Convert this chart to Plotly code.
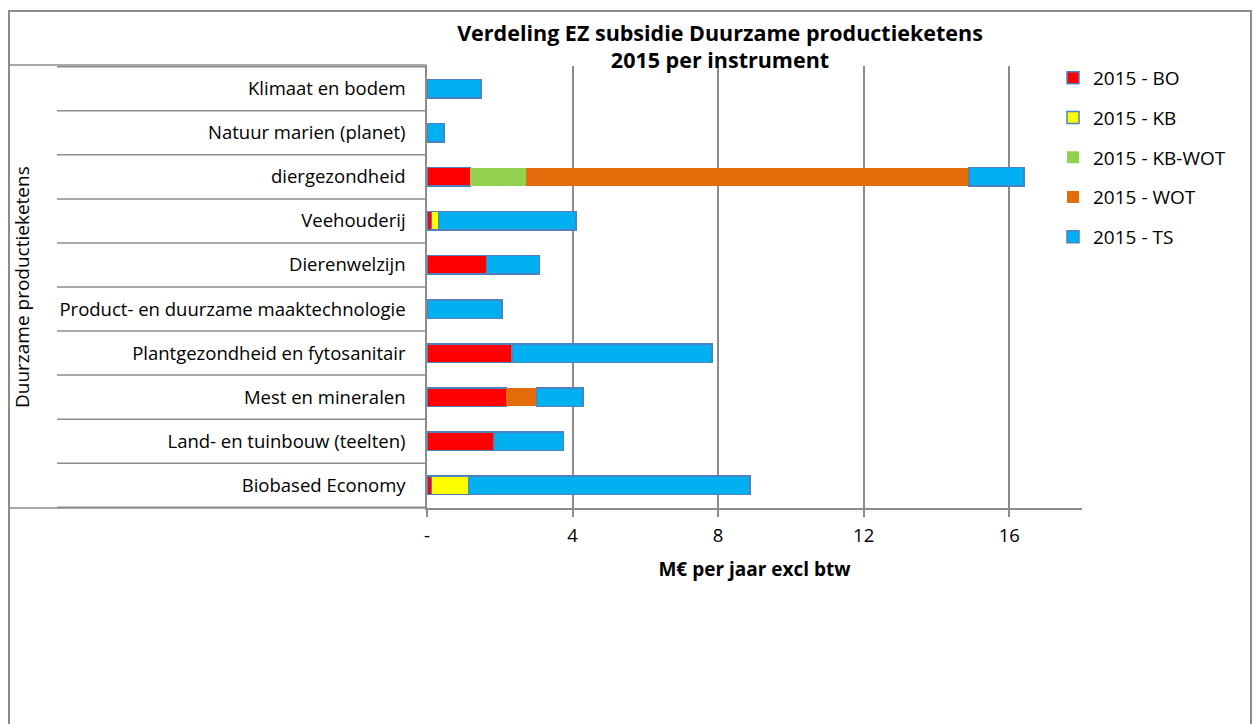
import plotly.graph_objects as go

# categories from bottom to top (plotly draws first category at the bottom)
categories = [
    "Biobased Economy",
    "Land- en tuinbouw (teelten)",
    "Mest en mineralen",
    "Plantgezondheid en fytosanitair",
    "Product- en duurzame maaktechnologie",
    "Dierenwelzijn",
    "Veehouderij",
    "diergezondheid",
    "Natuur marien (planet)",
    "Klimaat en bodem",
]

bo = [0.13, 1.84, 2.18, 2.34, None, 1.64, 0.12, 1.19, None, None]
kb = [1.01, None, None, None, None, None, 0.20, None, None, None]
kb_wot = [None, None, None, None, None, None, None, 1.53, None, None]
wot = [None, None, 0.83, None, None, None, None, 12.17, None, None]
ts = [7.73, 1.91, 1.28, 5.49, 2.06, 1.45, 3.78, 1.51, 0.47, 1.48]

tick_vals = [0, 4, 8, 12, 16]
tick_text = ["-", "4", "8", "12", "16"]

series = [
    ("2015 - BO", bo, "#FF0000", True),
    ("2015 - KB", kb, "#FFFF00", True),
    ("2015 - KB-WOT", kb_wot, "#92D050", False),
    ("2015 - WOT", wot, "#E46C0A", False),
    ("2015 - TS", ts, "#00B0F0", True),
]

FONT = "Open Sans"
GRAY = "#8C8C8C"

fig = go.Figure()
for i, (name, vals, color, outlined) in enumerate(series):
    fig.add_trace(go.Bar(
        y=categories, x=vals, name=name, orientation="h",
        legendgroup=str(i),
        marker=dict(color=color,
                    line=dict(color="#4F81BD" if outlined else color,
                              width=1.5 if outlined else 0)),
    ))

# frame lines of the category "table" on the left and the outer border
L, R, T, B = 427, 172, 66, 216
W = 1254 - L - R
H = 724 - T - B


def px(xp):
    return (xp - L) / W


def py(yp):
    return (724 - B - yp) / H


shapes = []
line = dict(color=GRAY, width=1.5)
for k in range(len(categories) + 1):
    shapes.append(dict(type="line", xref="paper", yref="y",
                       x0=px(57), x1=0, y0=k - 0.5, y1=k - 0.5, line=line))
shapes.append(dict(type="line", xref="paper", yref="paper",
                   x0=px(9), x1=0, y0=py(65), y1=py(65), line=line))
shapes.append(dict(type="line", xref="paper", yref="paper",
                   x0=px(9), x1=0, y0=0, y1=0, line=line))
shapes.append(dict(type="rect", xref="paper", yref="paper",
                   x0=px(9), x1=px(1251), y0=py(740), y1=py(11),
                   line=dict(color=GRAY, width=2)))

fig.update_layout(
    barmode="stack",
    bargap=0.58,
    width=1254, height=724,
    margin=dict(l=L, r=R, t=T, b=B),
    paper_bgcolor="white", plot_bgcolor="white",
    font=dict(family=FONT, size=18.5, color="#000000"),
    title=dict(text="<b>Verdeling EZ subsidie Duurzame productieketens<br>2015 per instrument</b>",
               x=720 / 1254, xanchor="center", y=0.944, yanchor="top",
               font=dict(family=FONT, size=21.5)),
    xaxis=dict(range=[0, 18], tickvals=tick_vals, ticktext=tick_text,
               showgrid=True, gridcolor=GRAY, gridwidth=1.5,
               showline=True, linecolor=GRAY, linewidth=1.5,
               ticks="outside", ticklen=7, tickcolor=GRAY, tickwidth=1.5,
               ticklabelstandoff=3, zeroline=False,
               title=dict(text="<b>M€ per jaar excl btw</b>", standoff=17,
                          font=dict(size=19))),
    yaxis=dict(showline=True, linecolor=GRAY, linewidth=1.5,
               ticks="", ticklabelstandoff=16, showgrid=False),
    legend=dict(x=px(1053), y=py(59), xanchor="left", yanchor="top",
                traceorder="grouped", tracegroupgap=12,
                font=dict(size=19), bgcolor="rgba(0,0,0,0)"),
    shapes=shapes,
    annotations=[dict(text="Duurzame productieketens", textangle=-90,
                      xref="paper", yref="paper", x=px(22), y=0.5,
                      xanchor="center", yanchor="middle", showarrow=False,
                      font=dict(size=19))],
)

fig.write_html("out.html", config={"displayModeBar": False},
               post_script="document.body.style.margin='0';")
